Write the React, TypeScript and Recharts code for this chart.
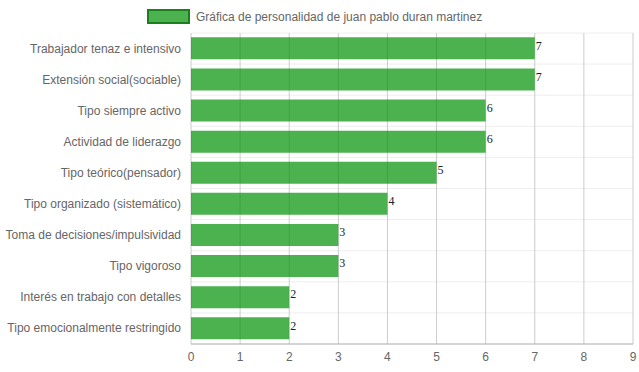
import React from "react";
import { BarChart, Bar, XAxis, YAxis, CartesianGrid, LabelList, Legend } from "recharts";

const categories = [
  "Trabajador tenaz e intensivo",
  "Extensión social(sociable)",
  "Tipo siempre activo",
  "Actividad de liderazgo",
  "Tipo teórico(pensador)",
  "Tipo organizado (sistemático)",
  "Toma de decisiones/impulsividad",
  "Tipo vigoroso",
  "Interés en trabajo con detalles",
  "Tipo emocionalmente restringido",
];
const values = [7, 7, 6, 6, 5, 4, 3, 3, 2, 2];
const xTicks = [0, 1, 2, 3, 4, 5, 6, 7, 8, 9];
const seriesName = "Gráfica de personalidad de juan pablo duran martinez";

const data = categories.map((c, i) => ({ name: c, value: values[i] }));

const FONT = "'Liberation Sans', Arial, sans-serif";

const LegendContent = () => (
  <div style={{ height: 24, position: "relative", width: 639 }}>
    <div
      style={{
        position: "absolute",
        left: 147,
        top: 0,
        display: "flex",
        alignItems: "center",
        fontFamily: FONT,
        fontSize: 12,
        color: "#666",
      }}
    >
      <span
        style={{
          display: "inline-block",
          width: 39,
          height: 11,
          background: "rgba(0,145,5,0.7)",
          border: "2px solid #1b7f1b",
          marginRight: 6,
        }}
      />
      <span>{seriesName}</span>
    </div>
  </div>
);

const YTick = (props: any) => {
  const { x, y, payload } = props;
  return (
    <text x={x} y={y} dy={4} textAnchor="end" fill="#666" fontSize={12} fontFamily={FONT}>
      {payload.value}
    </text>
  );
};

const hGen = (props: any) => {
  const off = props && props.offset;
  if (!off) return [];
  const n = categories.length;
  const pts: number[] = [];
  for (let i = 0; i <= n; i++) pts.push(off.top + (off.height * i) / n);
  return pts;
};

export default function App() {
  return (
    <div style={{ position: "absolute", left: 0, top: 0, width: 639, height: 372, background: "#fff" }}>
      <BarChart
        width={639}
        height={372}
        data={data}
        layout="vertical"
        margin={{ top: 9, right: 6, bottom: 0, left: 0 }}
        barCategoryGap="14%"
      >
        <Legend verticalAlign="top" align="left" height={24} content={<LegendContent />} />
        <CartesianGrid
          stroke="#eeeeee"
          vertical={false}
          horizontalCoordinatesGenerator={hGen}
        />
        <CartesianGrid stroke="#cccccc" horizontal={false} />
        <XAxis
          type="number"
          domain={[0, 9]}
          ticks={xTicks}
          interval={0}
          height={28}
          tickLine={false}
          tickSize={6}
          tickMargin={2}
          axisLine={{ stroke: "#b0b0b0" }}
          tick={{ fill: "#666", fontSize: 12, fontFamily: FONT }}
        />
        <YAxis
          type="category"
          dataKey="name"
          width={191}
          interval={0}
          tickLine={false}
          axisLine={false}
          tickSize={8}
          tickMargin={2}
          tick={<YTick />}
        />
        <Bar dataKey="value" fill="rgb(0,145,5)" fillOpacity={0.7} isAnimationActive={false}>
          <LabelList
            dataKey="value"
            position="right"
            offset={1}
            dy={-3}
            style={{ fill: "#222", fontSize: 12, fontFamily: "'Liberation Serif', 'Times New Roman', serif" }}
          />
        </Bar>
      </BarChart>
    </div>
  );
}
